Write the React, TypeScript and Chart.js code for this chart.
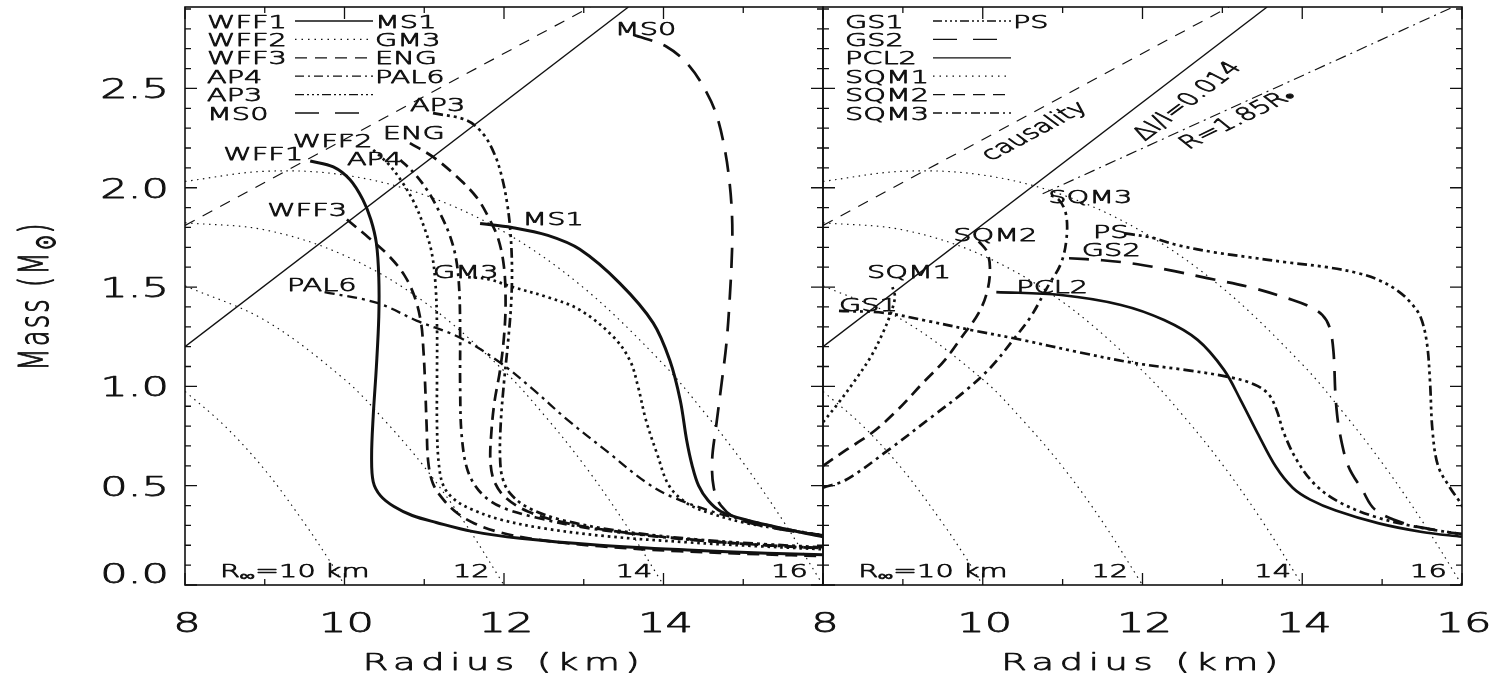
import React, { useEffect, useRef } from 'react';
import { Chart, registerables } from 'chart.js';

Chart.register(...registerables);

const CANVAS_W = 1494;
const CANVAS_H = 683;
const INK = '#111';
const FONT_FAMILY = '"DejaVu Sans", "Liberation Sans", Arial, sans-serif';
const FONT_WEIGHT = '300';
const H_STRETCH = 1.6;
const TEXT_STROKE = 0.75;
const TICK_FONT = 27;

// ---------------- axes ----------------
const radiusMin = 8;
const radiusMax = 16;
const massMin = 0;
const massMax = 2.91;
const xMajorTicks = [8, 10, 12, 14, 16];
const xMinorTicks = [9, 11, 13, 15];
const leftXTickLabels = ['8', '10', '12', '14', ''];
const rightXTickLabels = ['8', '10', '12', '14', '16'];
const yMajorTicks = [0, 0.5, 1.0, 1.5, 2.0, 2.5];
const yTickLabels = ['0.0', '0.5', '1.0', '1.5', '2.0', '2.5'];
const yMinorTicks = [0.1, 0.2, 0.3, 0.4, 0.6, 0.7, 0.8, 0.9, 1.1, 1.2, 1.3, 1.4, 1.6, 1.7, 1.8, 1.9, 2.1, 2.2, 2.3, 2.4, 2.6, 2.7, 2.8, 2.9];

// ---------------- reference curves (both panels) ----------------
const rInf10R = [8.0, 8.5, 9.0, 9.5, 9.8, 10.0];
const rInf10M = [0.975, 0.80, 0.58, 0.31, 0.13, 0.0];
const rInf12R = [8.0, 9.0, 10.0, 10.5, 11.0, 11.5, 12.0];
const rInf12M = [1.506, 1.333, 1.035, 0.83, 0.595, 0.318, 0.0];
const rInf14R = [8.0, 9.0, 10.0, 11.0, 12.0, 12.5, 13.0, 13.5, 14.0];
const rInf14M = [1.824, 1.788, 1.659, 1.425, 1.078, 0.857, 0.607, 0.321, 0.0];
const rInf16R = [8.0, 9.0, 10.0, 11.0, 12.0, 13.0, 14.0, 14.5, 15.0, 15.5, 16.0];
const rInf16M = [2.032, 2.083, 2.064, 1.964, 1.778, 1.496, 1.111, 0.875, 0.615, 0.323, 0.0];
const causalityR = [8.0, 13.08];
const causalityM = [1.81, 2.91];
const deltaIR = [8.0, 13.56];
const deltaIM = [1.20, 2.91];
const r185R = [10.75, 16.0];
const r185M = [1.97, 2.93];

// ---------------- left panel EOS ----------------
const wff1R = [9.57, 9.86, 10.07, 10.23, 10.33, 10.40, 10.43, 10.43, 10.40, 10.36, 10.34, 10.36, 10.45, 10.62, 10.85, 11.15, 11.6, 12.2, 13.2, 14.3, 15.3, 16.0];
const wff1M = [2.135, 2.105, 2.04, 1.94, 1.84, 1.72, 1.55, 1.35, 1.10, 0.85, 0.65, 0.52, 0.45, 0.395, 0.35, 0.315, 0.27, 0.235, 0.20, 0.176, 0.16, 0.152];
const wff2R = [10.36, 10.55, 10.72, 10.88, 11.00, 11.09, 11.14, 11.16, 11.16, 11.16, 11.18, 11.24, 11.38, 11.6, 11.95, 12.5, 13.3, 14.3, 15.2, 16.0];
const wff2M = [2.19, 2.12, 2.03, 1.92, 1.80, 1.68, 1.52, 1.30, 1.05, 0.80, 0.62, 0.50, 0.43, 0.38, 0.33, 0.285, 0.245, 0.215, 0.195, 0.18];
const wff3R = [10.03, 10.3, 10.55, 10.75, 10.88, 10.96, 10.99, 11.01, 11.03, 11.05, 11.11, 11.24, 11.42, 11.63, 11.95, 12.4, 13.2, 14.2, 15.2, 16.0];
const wff3M = [1.84, 1.75, 1.66, 1.56, 1.45, 1.32, 1.18, 1.02, 0.80, 0.62, 0.51, 0.43, 0.36, 0.31, 0.265, 0.23, 0.195, 0.17, 0.155, 0.145];
const ap4R = [10.70, 10.88, 11.05, 11.20, 11.32, 11.40, 11.44, 11.45, 11.45, 11.47, 11.55, 11.72, 11.98, 12.4, 13.0, 13.9, 14.9, 16.0];
const ap4M = [2.14, 2.07, 1.98, 1.87, 1.76, 1.64, 1.48, 1.25, 1.00, 0.75, 0.57, 0.46, 0.39, 0.34, 0.29, 0.245, 0.21, 0.185];
const ap3R = [11.11, 11.53, 11.74, 11.88, 11.97, 12.04, 12.08, 12.10, 12.09, 12.05, 12.0, 11.96, 11.95, 11.98, 12.08, 12.3, 12.7, 13.4, 14.4, 15.3, 16.0];
const ap3M = [2.376, 2.34, 2.27, 2.17, 2.06, 1.92, 1.78, 1.60, 1.42, 1.22, 1.02, 0.82, 0.65, 0.54, 0.46, 0.39, 0.33, 0.275, 0.23, 0.205, 0.19];
const ms0R = [13.62, 14.04, 14.33, 14.54, 14.67, 14.77, 14.83, 14.86, 14.86, 14.83, 14.79, 14.73, 14.66, 14.61, 14.63, 14.72, 14.92, 15.4, 16.0];
const ms0M = [2.77, 2.71, 2.61, 2.48, 2.36, 2.19, 2.02, 1.85, 1.69, 1.44, 1.22, 1.02, 0.80, 0.63, 0.49, 0.40, 0.335, 0.285, 0.25];
const ms1R = [11.70, 12.10, 12.55, 12.95, 13.45, 13.87, 14.08, 14.21, 14.29, 14.36, 14.44, 14.56, 14.72, 15.06, 15.59, 16.0];
const ms1M = [1.82, 1.80, 1.76, 1.69, 1.52, 1.32, 1.13, 0.93, 0.73, 0.60, 0.50, 0.425, 0.37, 0.325, 0.277, 0.243];
const gm3R = [11.55, 11.8, 12.11, 12.54, 12.95, 13.37, 13.58, 13.68, 13.78, 13.92, 14.07, 14.3, 14.6, 15.0, 15.5, 16.0];
const gm3M = [1.55, 1.54, 1.50, 1.45, 1.385, 1.25, 1.13, 1.0, 0.83, 0.66, 0.50, 0.41, 0.36, 0.315, 0.28, 0.25];
const engR = [10.82, 11.11, 11.41, 11.66, 11.82, 11.93, 12.0, 12.02, 12.0, 11.95, 11.88, 11.84, 11.83, 11.88, 12.02, 12.3, 12.8, 13.6, 14.6, 15.5, 16.0];
const engM = [2.225, 2.155, 2.055, 1.95, 1.84, 1.74, 1.60, 1.42, 1.25, 1.08, 0.92, 0.76, 0.62, 0.52, 0.44, 0.37, 0.31, 0.26, 0.22, 0.195, 0.185];
const pal6R = [9.75, 10.41, 10.91, 11.45, 11.95, 12.35, 12.8, 13.3, 13.77, 14.1, 14.69, 15.06, 15.5, 16.0];
const pal6M = [1.475, 1.42, 1.33, 1.245, 1.12, 0.99, 0.83, 0.67, 0.52, 0.445, 0.36, 0.325, 0.285, 0.25];

// ---------------- right panel EOS ----------------
const gs1R = [8.2, 8.77, 9.3, 9.85, 10.49, 11.19, 11.89, 12.53, 13.07, 13.4, 13.58, 13.68, 13.77, 13.93, 14.15, 14.45, 14.9, 15.4, 16.0];
const gs1M = [1.38, 1.37, 1.33, 1.284, 1.234, 1.173, 1.118, 1.083, 1.048, 1.01, 0.96, 0.88, 0.765, 0.63, 0.51, 0.42, 0.345, 0.295, 0.255];
const psR = [11.78, 12.1, 12.45, 12.9, 13.34, 13.8, 14.31, 14.7, 14.96, 15.2, 15.36, 15.48, 15.56, 15.60, 15.63, 15.70, 15.85, 15.97, 16.02];
const psM = [1.77, 1.75, 1.71, 1.675, 1.65, 1.625, 1.60, 1.57, 1.535, 1.48, 1.42, 1.35, 1.22, 1.02, 0.78, 0.60, 0.49, 0.42, 0.385];
const gs2R = [11.08, 11.5, 11.94, 12.4, 12.81, 13.34, 13.88, 14.1, 14.25, 14.34, 14.39, 14.42, 14.47, 14.58, 14.75, 14.91, 15.28, 15.82, 16.0];
const gs2M = [1.645, 1.635, 1.615, 1.58, 1.545, 1.50, 1.435, 1.40, 1.36, 1.30, 1.18, 0.93, 0.765, 0.595, 0.48, 0.38, 0.31, 0.267, 0.257];
const pcl2R = [10.17, 10.98, 11.73, 12.27, 12.69, 13.02, 13.23, 13.44, 13.67, 13.88, 14.1, 14.42, 14.96, 15.5, 16.0];
const pcl2M = [1.475, 1.46, 1.41, 1.334, 1.234, 1.083, 0.93, 0.765, 0.595, 0.49, 0.43, 0.375, 0.31, 0.267, 0.243];
const sqm1R = [8.0, 8.2, 8.4, 8.6, 8.75, 8.85, 8.9, 8.87];
const sqm1M = [0.82, 0.92, 1.03, 1.15, 1.27, 1.37, 1.45, 1.50];
const sqm2R = [8.0, 8.29, 8.61, 8.93, 9.25, 9.52, 9.74, 9.95, 10.06, 10.09, 10.05, 9.95];
const sqm2M = [0.60, 0.68, 0.765, 0.88, 1.017, 1.13, 1.25, 1.37, 1.485, 1.60, 1.68, 1.73];
const sqm3R = [8.0, 8.29, 8.82, 9.36, 9.79, 10.11, 10.38, 10.60, 10.81, 10.98, 11.05, 11.04, 10.95, 10.8];
const sqm3M = [0.49, 0.53, 0.68, 0.846, 0.98, 1.10, 1.234, 1.35, 1.50, 1.62, 1.75, 1.87, 1.94, 1.97];

// ---------------- line styles ----------------
const THICK = 2.7;
const THIN = 1.15;
const SOLID: number[] = [];
const DOT_T = [2.6, 3.8];
const DASH_T = [12, 7];
const DASHDOT_T = [10, 5, 3, 5];
const DASH3DOT_T = [10, 4, 3, 4, 3, 4, 3, 4];
const LONG_T = [20, 12];
const DOT_THIN = [1.5, 4.5];
const DASH_THIN = [11, 9];
const DASHDOT_THIN = [11, 5, 2, 5];
const DOT_LEG = [1.5, 5];
const DASH_LEG = [12, 8];
const DASHDOT_LEG = [9, 4, 2, 4];
const DASH3DOT_LEG = [9, 3, 2, 3, 2, 3, 2, 3];
const LONG_LEG = [24, 16];

type Series = { name: string; r: number[]; m: number[]; width: number; dash: number[]; tension: number };
const S = (name: string, r: number[], m: number[], width: number, dash: number[], tension = 0.35): Series => ({ name, r, m, width, dash, tension });

const referenceSeries = [
  S('R∞=10', rInf10R, rInf10M, THIN, DOT_THIN),
  S('R∞=12', rInf12R, rInf12M, THIN, DOT_THIN),
  S('R∞=14', rInf14R, rInf14M, THIN, DOT_THIN),
  S('R∞=16', rInf16R, rInf16M, THIN, DOT_THIN),
  S('causality', causalityR, causalityM, THIN, DASH_THIN, 0),
  S('ΔI/I=0.014', deltaIR, deltaIM, THIN + 0.2, SOLID, 0),
];

const leftSeries = [
  ...referenceSeries,
  S('WFF1', wff1R, wff1M, 3, SOLID),
  S('WFF2', wff2R, wff2M, THICK, DOT_T),
  S('WFF3', wff3R, wff3M, THICK, DASH_T),
  S('AP4', ap4R, ap4M, THICK, DASHDOT_T),
  S('AP3', ap3R, ap3M, THICK, DASH3DOT_T),
  S('MS0', ms0R, ms0M, THICK, LONG_T),
  S('MS1', ms1R, ms1M, 3, SOLID),
  S('GM3', gm3R, gm3M, THICK, DOT_T),
  S('ENG', engR, engM, THICK, DASH_T),
  S('PAL6', pal6R, pal6M, 2.3, DASHDOT_T),
];

const rightSeries = [
  ...referenceSeries,
  S('R=1.85R', r185R, r185M, THIN, DASHDOT_THIN, 0),
  S('GS1', gs1R, gs1M, THICK, DASH3DOT_T),
  S('PS', psR, psM, THICK, DASH3DOT_T),
  S('GS2', gs2R, gs2M, THICK, LONG_T),
  S('PCL2', pcl2R, pcl2M, 2.7, SOLID),
  S('SQM1', sqm1R, sqm1M, THICK, DOT_T),
  S('SQM2', sqm2R, sqm2M, THICK, DASH_T),
  S('SQM3', sqm3R, sqm3M, THICK, DASHDOT_T),
];

// ---------------- annotations ----------------
type Seg = { t: string; size: number; dy?: number };
type Note = { segs: Seg[]; r: number; m: number; align: 'left' | 'center' | 'right'; angle?: number };
const LBL = 18;
const txt = (t: string, r: number, m: number, align: 'left' | 'center' | 'right' = 'left', angle = 0): Note => ({ segs: [{ t, size: LBL }], r, m, align, angle });

const bottomNotes: Note[] = [
  { segs: [{ t: 'R', size: LBL }, { t: '∞', size: 13, dy: 3 }, { t: '=10 km', size: LBL }], r: 8.44, m: 0.073, align: 'left' },
  txt('12', 11.36, 0.073),
  txt('14', 13.4, 0.073),
  txt('16', 15.35, 0.073),
];

const leftNotes: Note[] = [
  txt('WFF1', 8.48, 2.175),
  txt('WFF2', 9.35, 2.24),
  txt('ENG', 10.48, 2.276),
  txt('AP3', 10.82, 2.42),
  txt('AP4', 10.03, 2.15),
  txt('WFF3', 9.03, 1.89),
  txt('MS1', 12.23, 1.843),
  txt('MS0', 13.39, 2.80),
  txt('PAL6', 9.28, 1.515),
  txt('GM3', 11.11, 1.58),
  ...bottomNotes,
];

const rightNotes: Note[] = [
  txt('SQM3', 10.82, 1.954),
  txt('SQM2', 9.63, 1.767),
  txt('PS', 11.38, 1.782),
  txt('GS2', 11.24, 1.687),
  txt('SQM1', 8.55, 1.58),
  txt('PCL2', 10.42, 1.505),
  txt('GS1', 8.2, 1.41),
  txt('causality', 10.63, 2.29, 'center', 28),
  txt('ΔI/I=0.014', 12.54, 2.44, 'center', 37),
  { segs: [{ t: 'R=1.85R', size: LBL }, { t: '•', size: 16, dy: 2 }], r: 13.17, m: 2.35, align: 'center', angle: 26 },
  ...bottomNotes,
];

type LegendRow = { left: string; right: string; dash: number[] };
const leftLegend: LegendRow[] = [
  { left: 'WFF1', right: 'MS1', dash: SOLID },
  { left: 'WFF2', right: 'GM3', dash: DOT_LEG },
  { left: 'WFF3', right: 'ENG', dash: DASH_LEG },
  { left: 'AP4', right: 'PAL6', dash: DASHDOT_LEG },
  { left: 'AP3', right: '', dash: DASH3DOT_LEG },
  { left: 'MS0', right: '', dash: LONG_LEG },
];
const rightLegend: LegendRow[] = [
  { left: 'GS1', right: 'PS', dash: DASH3DOT_LEG },
  { left: 'GS2', right: '', dash: LONG_LEG },
  { left: 'PCL2', right: '', dash: SOLID },
  { left: 'SQM1', right: '', dash: DOT_LEG },
  { left: 'SQM2', right: '', dash: DASH_LEG },
  { left: 'SQM3', right: '', dash: DASHDOT_LEG },
];

// ---------------- drawing helpers ----------------
function drawRich(ctx: any, segs: Seg[], x: number, y: number, align: string, angleDeg = 0, spacing = 0, vcenter = true) {
  ctx.save();
  ctx.translate(x, y);
  ctx.scale(H_STRETCH, 1);
  if (angleDeg) {
    const phi = angleDeg === 90 ? -Math.PI / 2 : -Math.atan(H_STRETCH * Math.tan((angleDeg * Math.PI) / 180));
    ctx.rotate(phi);
  }
  try { ctx.letterSpacing = `${spacing}px`; } catch (e) { /* ignore */ }
  ctx.textAlign = 'left';
  ctx.textBaseline = 'alphabetic';
  ctx.fillStyle = INK;
  ctx.strokeStyle = INK;
  ctx.lineWidth = TEXT_STROKE;
  ctx.lineJoin = 'round';
  ctx.setLineDash([]);
  const widths = segs.map((s) => {
    ctx.font = `${FONT_WEIGHT} ${s.size}px ${FONT_FAMILY}`;
    return ctx.measureText(s.t).width;
  });
  const total = widths.reduce((a, b) => a + b, 0);
  let cx = align === 'left' ? 0 : align === 'center' ? -total / 2 : -total;
  const base = vcenter ? (0.729 * segs[0].size) / 2 : 0;
  segs.forEach((s, i) => {
    ctx.font = `${FONT_WEIGHT} ${s.size}px ${FONT_FAMILY}`;
    ctx.fillText(s.t, cx, base + (s.dy ?? 0));
    ctx.strokeText(s.t, cx, base + (s.dy ?? 0));
    cx += widths[i];
  });
  ctx.restore();
}

type Panel = {
  series: Series[];
  padding: { left: number; right: number; top: number; bottom: number };
  xLabels: string[];
  showY: boolean;
  notes: Note[];
  legend: LegendRow[];
};

function decorPlugin(panel: Panel) {
  return {
    id: 'panelDecor',
    afterDraw(chart: any) {
      const { ctx, chartArea: a, scales } = chart;
      const xs = scales.x;
      const ys = scales.y;
      ctx.save();
      ctx.strokeStyle = INK;
      ctx.setLineDash([]);
      ctx.lineCap = 'butt';
      // frame
      ctx.lineWidth = 1.6;
      ctx.strokeRect(a.left, a.top, a.right - a.left, a.bottom - a.top);
      // ticks (inward on all four sides)
      ctx.lineWidth = 1.3;
      ctx.beginPath();
      const xt = (vals: number[], len: number) => vals.forEach((v) => {
        const px = xs.getPixelForValue(v);
        ctx.moveTo(px, a.bottom); ctx.lineTo(px, a.bottom - len);
        ctx.moveTo(px, a.top); ctx.lineTo(px, a.top + len);
      });
      const yt = (vals: number[], len: number) => vals.forEach((v) => {
        const py = ys.getPixelForValue(v);
        ctx.moveTo(a.left, py); ctx.lineTo(a.left + len, py);
        ctx.moveTo(a.right, py); ctx.lineTo(a.right - len, py);
      });
      xt(xMajorTicks, 12); xt(xMinorTicks, 6);
      yt(yMajorTicks, 12); yt(yMinorTicks, 6);
      ctx.stroke();

      // x tick labels
      xMajorTicks.forEach((v, i) => {
        const lab = panel.xLabels[i];
        if (!lab) return;
        drawRich(ctx, [{ t: lab, size: TICK_FONT }], xs.getPixelForValue(v) + 2, a.bottom + 47, 'center', 0, 0, false);
      });
      // x title
      drawRich(ctx, [{ t: 'Radius (km)', size: 23 }], (a.left + a.right) / 2, a.bottom + 85, 'center', 0, 3.5, false);

      if (panel.showY) {
        yMajorTicks.forEach((v, i) => {
          const py = ys.getPixelForValue(v) - (v === 0 ? 12 : 0);
          drawRich(ctx, [{ t: yTickLabels[i], size: TICK_FONT }], a.left - 16, py, 'right', 0, 0, true);
        });
        drawRich(ctx, [{ t: 'Mass (M', size: 26 }, { t: '⊙', size: 18, dy: 4 }, { t: ')', size: 26 }], 33, (a.top + a.bottom) / 2, 'center', 90, 2, true);
      }

      // curve labels
      panel.notes.forEach((n) => {
        drawRich(ctx, n.segs, xs.getPixelForValue(n.r), ys.getPixelForValue(n.m), n.align, n.angle ?? 0, 0, true);
      });

      // legend
      panel.legend.forEach((row, i) => {
        const cy = a.top + 14 + 18.4 * i;
        drawRich(ctx, [{ t: row.left, size: LBL }], a.left + 22, cy, 'left', 0, 0, true);
        ctx.save();
        ctx.strokeStyle = INK;
        ctx.lineWidth = 1.3;
        ctx.setLineDash(row.dash);
        ctx.beginPath();
        ctx.moveTo(a.left + 110, cy);
        ctx.lineTo(a.left + 188, cy);
        ctx.stroke();
        ctx.restore();
        if (row.right) drawRich(ctx, [{ t: row.right, size: LBL }], a.left + 190, cy, 'left', 0, 0, true);
      });
      ctx.restore();
    },
  };
}

function buildConfig(panel: Panel): any {
  return {
    type: 'line',
    data: {
      datasets: panel.series.map((s) => ({
        label: s.name,
        data: s.r.map((r, i) => ({ x: r, y: s.m[i] })),
        borderColor: INK,
        backgroundColor: INK,
        borderWidth: s.width,
        borderDash: s.dash,
        borderCapStyle: 'butt',
        borderJoinStyle: 'round',
        pointRadius: 0,
        pointHoverRadius: 0,
        tension: s.tension,
        fill: false,
        clip: 0,
      })),
    },
    options: {
      animation: false,
      responsive: false,
      maintainAspectRatio: false,
      events: [],
      parsing: true,
      layout: { padding: panel.padding },
      scales: {
        x: { type: 'linear', min: radiusMin, max: radiusMax, display: false },
        y: { type: 'linear', min: massMin, max: massMax, display: false },
      },
      plugins: { legend: { display: false }, tooltip: { enabled: false }, title: { display: false } },
    },
    plugins: [decorPlugin(panel)],
  };
}

const leftPanel: Panel = {
  series: leftSeries,
  padding: { left: 185, right: CANVAS_W - 823, top: 7, bottom: CANVAS_H - 585 },
  xLabels: leftXTickLabels,
  showY: true,
  notes: leftNotes,
  legend: leftLegend,
};

const rightPanel: Panel = {
  series: rightSeries,
  padding: { left: 823, right: CANVAS_W - 1462, top: 7, bottom: CANVAS_H - 585 },
  xLabels: rightXTickLabels,
  showY: false,
  notes: rightNotes,
  legend: rightLegend,
};

export default function App() {
  const leftRef = useRef<HTMLCanvasElement>(null);
  const rightRef = useRef<HTMLCanvasElement>(null);
  useEffect(() => {
    const c1 = new Chart(leftRef.current as HTMLCanvasElement, buildConfig(leftPanel));
    const c2 = new Chart(rightRef.current as HTMLCanvasElement, buildConfig(rightPanel));
    return () => {
      c1.destroy();
      c2.destroy();
    };
  }, []);
  const canvasStyle: React.CSSProperties = { position: 'absolute', left: 0, top: 0, width: CANVAS_W, height: CANVAS_H };
  return (
    <div style={{ position: 'absolute', left: 0, top: 0, width: CANVAS_W, height: CANVAS_H, background: '#fff', overflow: 'hidden' }}>
      <canvas ref={leftRef} width={CANVAS_W} height={CANVAS_H} style={canvasStyle} />
      <canvas ref={rightRef} width={CANVAS_W} height={CANVAS_H} style={canvasStyle} />
    </div>
  );
}
